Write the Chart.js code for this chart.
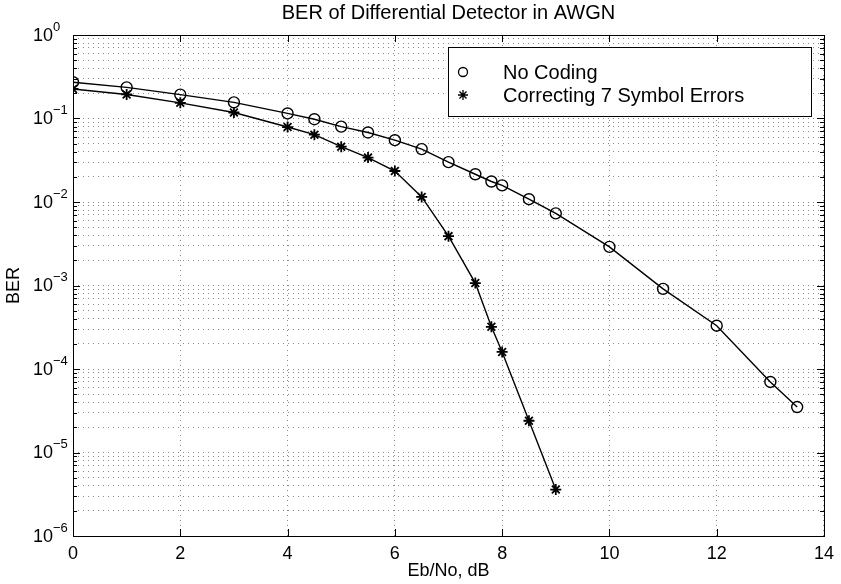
<!DOCTYPE html>
<html>
<head>
<meta charset="utf-8">
<title>BER of Differential Detector in AWGN</title>
<script src="https://cdn.jsdelivr.net/npm/chart.js@4.4.1/dist/chart.umd.min.js"></script>
<style>
  body { margin: 0; background: #fff; }
  canvas { display: block; }
</style>
</head>
<body>
<canvas id="berChart" width="841" height="584"></canvas>
<script>
// Eb/No points (dB) and measured bit error rates
const ebNoUncoded = [0, 1, 2, 3, 4, 4.5, 5, 5.5, 6, 6.5, 7, 7.5, 7.8, 8, 8.5, 9, 10, 11, 12, 13, 13.5];
const berUncoded = [0.272, 0.236, 0.193, 0.156, 0.115, 0.098, 0.080, 0.068, 0.055, 0.043, 0.030, 0.0215,
                    0.0176, 0.0158, 0.0108, 0.0073, 0.0029, 0.00091, 0.00033, 0.000070, 0.000035];

const ebNoCoded = [0, 1, 2, 3, 4, 4.5, 5, 5.5, 6, 6.5, 7, 7.5, 7.8, 8, 8.5, 9];
const berCoded = [0.226, 0.194, 0.154, 0.118, 0.079, 0.064, 0.046, 0.034, 0.0235, 0.0115, 0.0039,
                  0.00107, 0.00032, 0.00016, 0.0000240, 0.0000036];

const seriesNames = ['No Coding', 'Correcting 7 Symbol Errors'];

// axis ticks
const xTicks = [0, 2, 4, 6, 8, 10, 12, 14];
const yDecades = [-6, -5, -4, -3, -2, -1, 0];

const fontName = '"Liberation Sans", Arial, Helvetica, sans-serif';

function toPoints(xs, ys) {
  return xs.map(function (x, i) { return { x: x, y: ys[i] }; });
}

// every 1..9 x 10^n value between the first and last decade
function logTickValues() {
  let vals = [];
  for (let d = 0; d < yDecades.length; d++) {
    let base = Math.pow(10, yDecades[d]);
    if (d == yDecades.length - 1) { vals.push(base); break; }
    for (let k = 1; k <= 9; k++) vals.push(k * base);
  }
  return vals;
}

// box, inward tick marks, y labels with exponents, legend
const framePlugin = {
  id: 'frame',
  afterDraw(chart) {
    const ctx = chart.ctx;
    const area = chart.chartArea;
    const xs = chart.scales.x;
    const ys = chart.scales.y;

    ctx.save();
    ctx.strokeStyle = '#000';
    ctx.lineWidth = 1;
    ctx.strokeRect(Math.round(area.left) + 0.5, Math.round(area.top) + 0.5,
                   Math.round(area.right - area.left), Math.round(area.bottom - area.top));

    ctx.beginPath();
    xTicks.forEach(function (t) {
      let px = Math.round(xs.getPixelForValue(t)) + 0.5;
      ctx.moveTo(px, area.bottom); ctx.lineTo(px, area.bottom - 7);
      ctx.moveTo(px, area.top); ctx.lineTo(px, area.top + 7);
    });
    logTickValues().forEach(function (v) {
      let py = Math.round(ys.getPixelForValue(v)) + 0.5;
      let major = Math.abs(Math.log10(v) - Math.round(Math.log10(v))) < 1e-9;
      let len = major ? 7 : 4;
      ctx.moveTo(area.left, py); ctx.lineTo(area.left + len, py);
      ctx.moveTo(area.right, py); ctx.lineTo(area.right - len, py);
    });
    ctx.stroke();

    // y labels: "10" with a raised exponent
    ctx.fillStyle = '#000';
    ctx.textBaseline = 'middle';
    yDecades.forEach(function (e) {
      let py = ys.getPixelForValue(Math.pow(10, e));
      ctx.font = '18px ' + fontName;
      ctx.textAlign = 'right';
      ctx.fillText('10', area.left - 20, py + 1);
      ctx.font = '13px ' + fontName;
      ctx.textAlign = 'left';
      ctx.fillText(e == 0 ? '0' : '\u2212' + Math.abs(e), area.left - 20, py - 8);
    });

    // legend
    const lx = 448, ly = 47, lw = 363, lh = 69;
    ctx.fillStyle = '#fff';
    ctx.fillRect(lx, ly, lw, lh);
    ctx.strokeStyle = '#000';
    ctx.strokeRect(lx + 0.5, ly + 0.5, lw, lh);
    chart.data.datasets.forEach(function (ds, i) {
      let my = 72 + i * 23;
      let mx = 463;
      ctx.beginPath();
      ctx.lineWidth = 1.3;
      if (ds.pointStyle == 'circle') {
        ctx.arc(mx, my, 4.5, 0, Math.PI * 2);
      } else {
        let r = 5;
        for (let a = 0; a < 4; a++) {
          let ang = a * Math.PI / 4;
          ctx.moveTo(mx - r * Math.cos(ang), my - r * Math.sin(ang));
          ctx.lineTo(mx + r * Math.cos(ang), my + r * Math.sin(ang));
        }
      }
      ctx.stroke();
      ctx.fillStyle = '#000';
      ctx.font = '20px ' + fontName;
      ctx.textAlign = 'left';
      ctx.fillText(ds.label, 503, my + 1);
    });
    ctx.restore();
  }
};

const ctx = document.getElementById('berChart').getContext('2d');

const berChart = new Chart(ctx, {
  type: 'line',
  data: {
    datasets: [{
      label: seriesNames[0],
      data: toPoints(ebNoUncoded, berUncoded),
      borderColor: '#000',
      borderWidth: 1.4,
      pointStyle: 'circle',
      pointRadius: 5.5,
      pointBorderWidth: 1.4,
      pointBorderColor: '#000',
      pointBackgroundColor: 'rgba(0,0,0,0)',
      tension: 0
    }, {
      label: seriesNames[1],
      data: toPoints(ebNoCoded, berCoded),
      borderColor: '#000',
      borderWidth: 1.4,
      pointStyle: 'star',
      pointRadius: 5.5,
      pointBorderWidth: 1.8,
      pointBorderColor: '#000',
      pointBackgroundColor: '#000',
      tension: 0
    }]
  },
  options: {
    responsive: false,
    animation: false,
    layout: { padding: { left: 0, right: 13, top: 0, bottom: 0 } },
    plugins: {
      legend: { display: false },
      tooltip: { enabled: false },
      title: {
        display: true,
        text: 'BER of Differential Detector in AWGN',
        color: '#000',
        fullSize: false,
        font: { family: fontName, size: 20, weight: 'normal' },
        padding: { top: 1, bottom: 10 }
      }
    },
    scales: {
      x: {
        type: 'linear',
        min: 0,
        max: 14,
        afterBuildTicks: function (scale) {
          scale.ticks = xTicks.map(function (v) { return { value: v }; });
        },
        afterFit: function (scale) { scale.height = 48; },
        ticks: {
          color: '#000',
          padding: 7,
          maxRotation: 0,
          font: { family: fontName, size: 18 }
        },
        grid: { color: '#8a8a8a', lineWidth: 1, drawTicks: false },
        border: { display: false, dash: [1, 4] },
        title: {
          display: true,
          text: 'Eb/No, dB',
          color: '#000',
          font: { family: fontName, size: 18 },
          padding: { top: 0, bottom: 2 }
        }
      },
      y: {
        type: 'logarithmic',
        min: 1e-6,
        max: 1,
        afterBuildTicks: function (scale) {
          scale.ticks = logTickValues().map(function (v) { return { value: v }; });
        },
        afterFit: function (scale) { scale.width = 73; },
        ticks: { display: false, autoSkip: false },
        grid: { color: '#8a8a8a', lineWidth: 1, drawTicks: false },
        border: { display: false, dash: [1, 4] },
        title: {
          display: true,
          text: 'BER',
          color: '#000',
          font: { family: fontName, size: 18 },
          padding: { top: 3, bottom: 0 }
        }
      }
    }
  },
  plugins: [framePlugin]
});
</script>
</body>
</html>
